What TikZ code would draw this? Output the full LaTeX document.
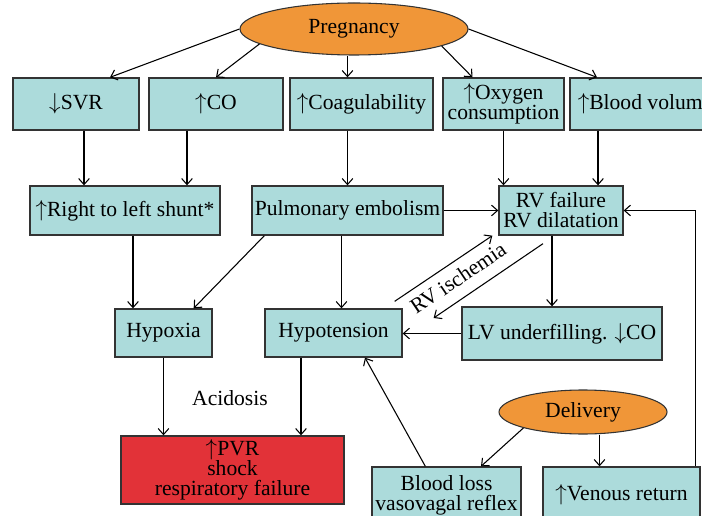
\documentclass[tikz,border=0pt]{standalone}
\usepackage{fontspec}
\setmainfont{Liberation Serif}
\usetikzlibrary{arrows.meta,shapes.geometric,calc}

\definecolor{boxfill}{RGB}{172,219,219}
\definecolor{eventfill}{RGB}{240,150,56}
\definecolor{alarmfill}{RGB}{226,50,56}
\definecolor{edgegray}{RGB}{51,51,51}

\begin{document}
\begin{tikzpicture}[x=0.75pt,y=-0.75pt,
  >={Straight Barb[length=4.5pt,width=8pt]},
  every node/.style={font=\fontsize{16.2}{15}\selectfont},
  box node/.style={rectangle,draw=edgegray,line width=1pt,fill=boxfill,align=center,inner sep=1pt},
  alarm node/.style={box node,fill=alarmfill},
  event node/.style={ellipse,draw=edgegray,line width=0.8pt,fill=eventfill,inner sep=0pt},
  link/.style={->,line width=0.8pt}]
    \useasboundingbox (0,0) rectangle (702,516);

    % causes
    \node[event node,minimum width=171pt,minimum height=39pt] (preg) at (354,29) {Pregnancy};
    \node[box node,minimum width=94.5pt,minimum height=39pt] (svr) at (76,104) {$\downarrow$SVR};
    \node[box node,minimum width=100.5pt,minimum height=39pt] (co) at (216,104) {$\uparrow$CO};
    \node[box node,minimum width=107.25pt,minimum height=39pt] (coag) at (361.5,104) {$\uparrow$Coagulability};
    \node[box node,minimum width=90.75pt,minimum height=39pt,font=\fontsize{16.2}{13}\selectfont] (oxygen) at (503.5,104) {$\uparrow$Oxygen\\consumption};
    \node[box node,minimum width=112.5pt,minimum height=39pt] (bloodvol) at (645,104) {$\uparrow$Blood volume};

    \node[box node,minimum width=142.5pt,minimum height=36.75pt] (shunt) at (125,210.5) {$\uparrow$Right to left shunt*};
    \node[box node,minimum width=143.25pt,minimum height=36.75pt] (pe) at (347.5,210.5) {Pulmonary embolism};
    \node[box node,minimum width=93pt,minimum height=36.75pt] (rv) at (561,210.5) {RV failure\\RV dilatation};

    \node[box node,minimum width=72.75pt,minimum height=36pt] (hypoxia) at (163.5,333) {Hypoxia};
    \node[box node,minimum width=102.75pt,minimum height=36pt] (hypotension) at (333.5,333) {Hypotension};
    \node[box node,minimum width=150pt,minimum height=39.75pt] (lv) at (562,333.5) {LV underfilling. $\downarrow$CO};

    \node[alarm node,minimum width=167.25pt,minimum height=51pt] (outcome) at (232.5,470) {$\uparrow$PVR\\shock\\respiratory failure};
    \node (acidosis) at (230,398) {Acidosis};

    \node[event node,minimum width=126pt,minimum height=33pt] (delivery) at (583,412) {Delivery};
    \node[box node,minimum width=111.75pt,minimum height=42pt] (bloodloss) at (446.5,495) {Blood loss\\vasovagal reflex};
    \node[box node,minimum width=117.75pt,minimum height=42pt] (venous) at (621.5,495) {$\uparrow$Venous return};

    % pregnancy
    \draw[link] (preg.west) -- ($(svr.north)+(34,0)$);
    \draw[link] (preg.189) -- (co.north);
    \draw[link] (preg.south -| pe.north) -- (coag.north -| pe.north);
    \draw[link] (preg.-11) -- ($(oxygen.north)+(-31,0)$);
    \draw[link] (preg.east) -- ($(bloodvol.north)+(-48,0)$);

    \draw[link] ($(svr.south)+(8,0)$) coordinate (a1) -- (a1 |- shunt.north);
    \draw[link] ($(co.south)+(-29,0)$) coordinate (a2) -- (a2 |- shunt.north);
    \draw[link] (coag.south -| pe.north) -- (pe.north);
    \draw[link] (oxygen.south) -- (oxygen.south |- rv.north);
    \draw[link] ($(bloodvol.south)+(-47,0)$) coordinate (a3) -- (a3 |- rv.north);
    \draw[link] (pe.east) -- (rv.west);

    \draw[link] ($(shunt.south)+(8,0)$) coordinate (a4) -- (a4 |- hypoxia.north);
    \draw[link] ($(pe.south west)+(13,0)$) -- ($(hypoxia.north east)+(-19,0)$);
    \draw[link] ($(pe.south)+(-6,0)$) coordinate (a5) -- (a5 |- hypotension.north);
    \draw[link] ($(rv.south)+(-9,0)$) coordinate (a6) -- (a6 |- lv.north);
    \draw[link] (lv.west) -- (lv.west -| hypotension.east);

    % rv ischemia loop
    \draw[link] ($(hypotension.north east)+(-8,-7)$) -- ($(rv.south west)+(-6,0)$);
    \draw[link] ($(rv.south)+(-18,8)$) -- ($(hypotension.east)+(31,-15)$);
    \node[rotate=34] (ischemia) at (458,278) {RV ischemia};

    \draw[link] (hypoxia.south) -- (hypoxia.south |- outcome.north);
    \draw[link] ($(hypotension.south)+(-32.5,0)$) coordinate (a7) -- (a7 |- outcome.north);

    % delivery
    \draw[link] ($(bloodloss.north west)+(54,0)$) -- ($(hypotension.south)+(31.5,0)$);
    \draw[link] (delivery.195) -- ($(bloodloss.north)+(34.5,0)$);
    \path ($(venous.north)+(-22,0)$) coordinate (a8);
    \draw[link] (a8 |- delivery.south) -- (a8);
    \draw[link] ($(venous.north east)+(-5,0)$) |- (rv.east);
\end{tikzpicture}
\end{document}
